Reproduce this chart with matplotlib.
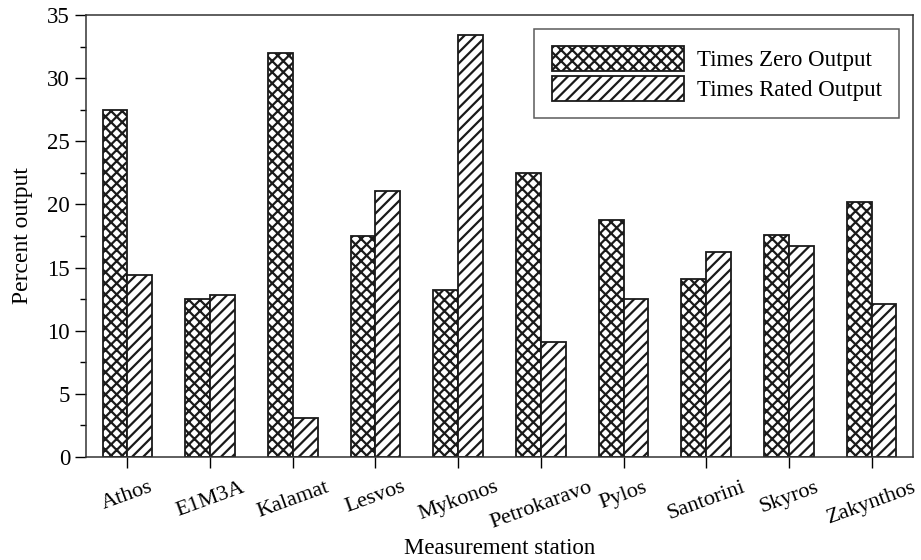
import matplotlib
matplotlib.use("Agg")
import matplotlib.pyplot as plt
import numpy as np
from matplotlib.ticker import MultipleLocator

stations = ["Athos", "E1M3A", "Kalamat", "Lesvos", "Mykonos", "Petrokaravo",
            "Pylos", "Santorini", "Skyros", "Zakynthos"]
zero_output = [27.5, 12.5, 32.0, 17.5, 13.2, 22.5, 18.8, 14.1, 17.6, 20.2]
rated_output = [14.4, 12.8, 3.1, 21.1, 33.4, 9.1, 12.5, 16.2, 16.7, 12.1]

plt.rcParams['font.family'] = ['Liberation Serif', 'DejaVu Serif']
plt.rcParams['hatch.linewidth'] = 1.6

fig = plt.figure(figsize=(9.21, 5.60), dpi=100)
ax = fig.add_axes([0.0934, 0.1839, 0.8979, 0.7893])

x = np.arange(len(stations))
w = 0.3
ax.bar(x - w/2, zero_output, w, facecolor='white', edgecolor='#1a1a1a',
       hatch='xxx', linewidth=1.3, label='Times Zero Output')
ax.bar(x + w/2, rated_output, w, facecolor='white', edgecolor='#1a1a1a',
       hatch='///', linewidth=1.3, label='Times Rated Output')

ax.set_xlim(-0.5, len(stations) - 0.5)
ax.set_ylim(0, 35)
ax.yaxis.set_major_locator(MultipleLocator(5))
ax.yaxis.set_minor_locator(MultipleLocator(2.5))
ax.set_xticks(x)
ax.set_xticklabels(stations, rotation=20, ha='center', fontsize=16)
ax.tick_params(axis='y', which='major', direction='out', length=8, width=1, labelsize=16.5)
ax.tick_params(axis='y', which='minor', direction='out', length=4, width=1)
ax.tick_params(axis='x', which='major', direction='out', length=8, width=1, pad=7)
for s in ax.spines.values():
    s.set_linewidth(1.1)
    s.set_color('#333333')

ax.set_ylabel('Percent output', fontsize=17, labelpad=10)
ax.set_xlabel('Measurement station', fontsize=16.5, labelpad=4)

leg = ax.legend(loc='upper right', fontsize=16.5, frameon=True, fancybox=False,
                edgecolor='#333333', handlelength=5.8, handleheight=1.3,
                borderpad=0.75, labelspacing=0.2, handletextpad=0.55,
                borderaxespad=0.6)
leg.get_frame().set_linewidth(1.1)

fig.savefig('out.png', dpi=100)
